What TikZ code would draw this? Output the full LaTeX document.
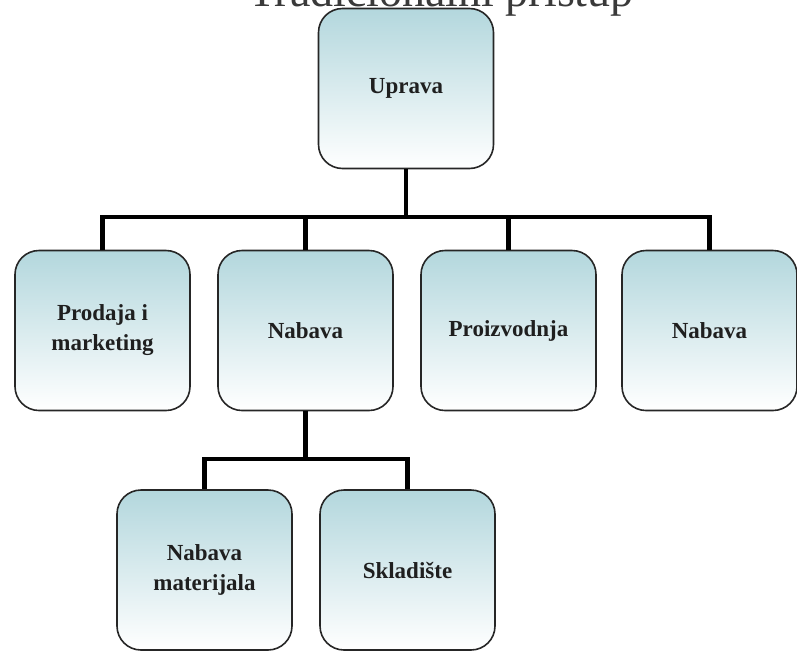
\documentclass[tikz,border=0pt]{standalone}
\usepackage{fontspec}
\setmainfont{Liberation Serif}
\definecolor{boxtop}{HTML}{B3D7DD}
\definecolor{titlegray}{HTML}{3A3A3A}
\tikzset{
  orgbox/.style={draw=black!85, line width=1.6pt, rounded corners=24pt,
    top color=boxtop, bottom color=white, minimum width=175pt, minimum height=160pt,
    inner sep=0pt, align=center, font=\fontsize{23}{30}\selectfont\bfseries, text=black!88},
  conn/.style={line width=4.5pt, black},
}
\begin{document}
\begin{tikzpicture}[x=1pt,y=-1pt]
\useasboundingbox (0,0) rectangle (797,651);
\clip (0,0) rectangle (797,651);
\node[anchor=base west, inner sep=0pt, text=titlegray, font=\fontsize{46}{50}\selectfont] (title) at (248,6) {Tradicionalni pristup};
\node[orgbox] (up) at (406,88.5) {Uprava};
\node[orgbox] (p1) at (102.5,330.5) {Prodaja i\\marketing};
\node[orgbox] (p2) at (305.5,330.5) {Nabava};
\node[orgbox] (p3) at (508.5,330.5) {Proizvodnja};
\node[orgbox] (p4) at (709.5,330.5) {Nabava};
\node[orgbox] (s1) at (204.5,570) {Nabava\\materijala};
\node[orgbox] (s2) at (407.5,570) {Skladište};
\coordinate (j1) at (406,217);
\coordinate (j2) at (305.5,459);
\draw[conn] (up.south) -- (j1);
\draw[conn] (j1) -| (p1.north);
\draw[conn] (j1) -| (p2.north);
\draw[conn] (j1) -| (p3.north);
\draw[conn] (j1) -| (p4.north);
\draw[conn] (p2.south) -- (j2);
\draw[conn] (j2) -| (s1.north);
\draw[conn] (j2) -| (s2.north);
\end{tikzpicture}
\end{document}
